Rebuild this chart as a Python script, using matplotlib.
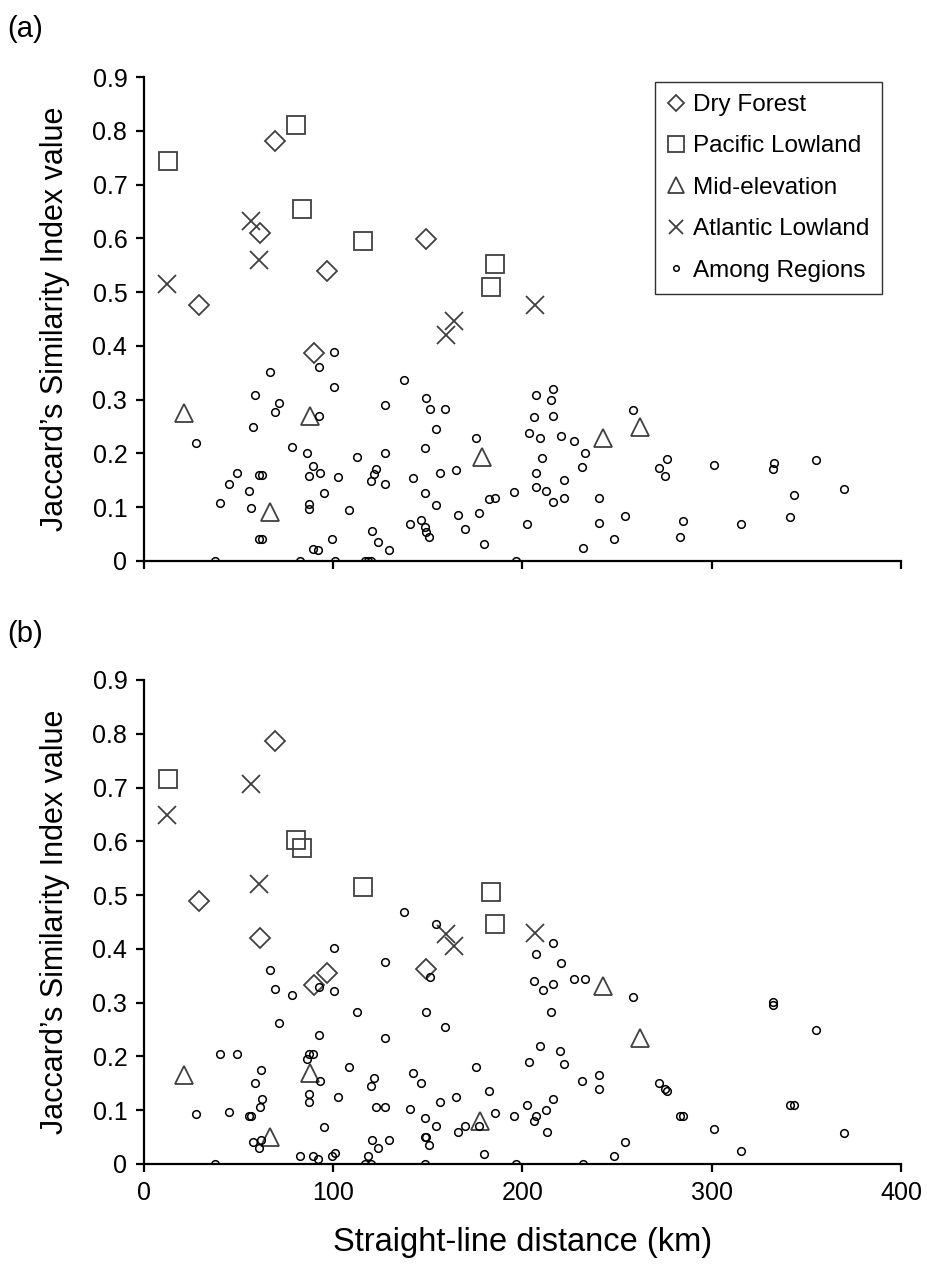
import numpy as np
import matplotlib
matplotlib.use('Agg')
import matplotlib.pyplot as plt

plt.rcParams['font.family'] = ['Liberation Sans', 'DejaVu Sans']

# ---- panel (a) ----
a_dry_x = [69.4, 61.3, 96.5, 148.8, 29.0, 89.7]
a_dry_y = [0.781, 0.610, 0.540, 0.598, 0.476, 0.386]
a_pac_x = [12.7, 80.3, 83.7, 115.5, 185.3, 183.2]
a_pac_y = [0.744, 0.811, 0.654, 0.595, 0.553, 0.510]
a_mid_x = [21.0, 87.5, 66.7, 178.6, 242.4, 262.1]
a_mid_y = [0.275, 0.270, 0.092, 0.194, 0.228, 0.250]
a_atl_x = [56.5, 60.9, 12.0, 163.8, 159.6, 206.4]
a_atl_y = [0.632, 0.559, 0.515, 0.447, 0.420, 0.476]

a_among_x = [100.6, 92.6, 66.6, 100.6, 58.5, 71.5, 69.1, 92.6, 127.3, 57.6,
             27.6, 78.2, 86.1, 112.4, 127.3, 89.5, 122.6, 121.5, 49.3, 61.0,
             62.2, 93.2, 87.4, 102.3, 45.1, 120.1, 127.3, 55.3, 95.1, 40.3,
             56.4, 87.4, 87.4, 108.5, 60.8, 62.5, 99.5, 120.5, 123.5, 129.5,
             89.3, 91.8, 37.3, 82.6, 101.1, 116.6, 118.4, 120.1,
             137.2, 149.2, 151.3, 159.2, 154.4, 148.5, 175.3, 142.1, 156.6, 165.0,
             148.5, 154.4, 140.5, 146.3, 148.6, 148.8, 150.4, 166.1, 169.5, 177.2,
             179.6, 182.1, 185.4, 195.3, 202.2, 196.6, 207.1, 216.3, 215.2, 206.1,
             216.3, 203.4, 209.5, 220.5, 227.4, 233.3, 210.3, 231.3, 207.1, 222.1,
             207.1, 212.6, 222.1, 215.9, 240.3, 240.3, 254.2, 248.2, 232.1, 258.4,
             276.5, 272.1, 275.3, 301.0, 332.9, 332.2, 355.3, 370.0, 343.5, 341.4,
             284.8, 283.2, 315.3]
a_among_y = [0.388, 0.361, 0.352, 0.324, 0.309, 0.294, 0.277, 0.270, 0.290, 0.249,
             0.219, 0.212, 0.200, 0.193, 0.200, 0.176, 0.171, 0.161, 0.163, 0.159,
             0.159, 0.163, 0.158, 0.156, 0.143, 0.148, 0.143, 0.131, 0.127, 0.107,
             0.099, 0.106, 0.097, 0.095, 0.040, 0.041, 0.041, 0.055, 0.036, 0.021,
             0.023, 0.021, 0.0, 0.0, 0.0, 0.0, 0.0, 0.0,
             0.337, 0.303, 0.283, 0.283, 0.246, 0.210, 0.229, 0.154, 0.163, 0.170,
             0.127, 0.105, 0.068, 0.077, 0.063, 0.053, 0.045, 0.086, 0.060, 0.089,
             0.032, 0.116, 0.118, 0.129, 0.068, 0.0, 0.309, 0.319, 0.300, 0.268,
             0.270, 0.238, 0.228, 0.233, 0.223, 0.200, 0.191, 0.174, 0.163, 0.151,
             0.137, 0.131, 0.118, 0.109, 0.118, 0.071, 0.084, 0.040, 0.024, 0.281,
             0.189, 0.173, 0.158, 0.178, 0.182, 0.172, 0.187, 0.133, 0.122, 0.081,
             0.075, 0.045, 0.069]

# ---- panel (b) ----
b_dry_x = [69.4, 29.0, 61.4, 148.8, 96.6, 89.7]
b_dry_y = [0.787, 0.489, 0.420, 0.363, 0.355, 0.332]
b_pac_x = [12.7, 80.4, 83.6, 115.5, 183.2, 185.3]
b_pac_y = [0.715, 0.603, 0.588, 0.515, 0.505, 0.446]
b_mid_x = [21.0, 87.5, 66.7, 177.5, 242.4, 262.1]
b_mid_y = [0.165, 0.170, 0.050, 0.080, 0.330, 0.235]
b_atl_x = [56.5, 12.0, 60.9, 159.6, 163.8, 206.4]
b_atl_y = [0.706, 0.649, 0.521, 0.428, 0.405, 0.430]

b_among_x = [100.6, 127.3, 66.6, 69.2, 78.2, 92.6, 100.6, 112.4, 137.2, 154.4,
             151.3, 216.3, 207.1, 220.5, 206.1, 210.6, 216.3, 227.4, 233.3, 258.4,
             149.2, 215.2, 332.5, 332.5,
             40.3, 49.3, 27.6, 45.1, 57.6, 56.4, 55.3, 58.5, 61.6, 62.5,
             61.3, 60.8, 61.6, 37.3, 71.5, 82.6, 86.1, 87.4, 87.4, 87.4,
             89.5, 89.3, 91.8, 92.6, 93.2, 95.1, 99.5, 101.1, 102.3, 108.5,
             116.6, 118.4, 120.1, 120.1, 121.5, 122.6, 120.5, 123.5, 127.3, 129.5,
             127.3, 140.5, 142.1, 146.3, 148.5, 148.6, 148.8, 150.4, 148.5, 156.6,
             154.4, 159.2, 165.0, 166.1, 169.5, 175.3, 177.2, 179.6, 182.1, 185.4,
             195.3, 196.6, 202.2, 203.4, 206.0, 207.1, 209.5, 212.6, 213.0, 215.9,
             220.0, 222.1, 231.3, 232.1, 240.3, 240.3, 248.2, 254.2, 272.1, 275.3,
             276.5, 283.2, 284.8, 301.0, 315.3, 343.5, 341.4, 355.3, 370.0]
b_among_y = [0.402, 0.376, 0.361, 0.325, 0.314, 0.329, 0.321, 0.282, 0.468, 0.447,
             0.348, 0.410, 0.390, 0.373, 0.340, 0.323, 0.334, 0.344, 0.343, 0.311,
             0.282, 0.282, 0.302, 0.295,
             0.205, 0.205, 0.092, 0.097, 0.040, 0.090, 0.090, 0.150, 0.175, 0.120,
             0.105, 0.030, 0.045, 0.0, 0.262, 0.015, 0.195, 0.205, 0.130, 0.115,
             0.205, 0.015, 0.010, 0.240, 0.155, 0.068, 0.015, 0.020, 0.125, 0.180,
             0.0, 0.015, 0.0, 0.145, 0.160, 0.105, 0.045, 0.030, 0.105, 0.045,
             0.235, 0.102, 0.170, 0.150, 0.085, 0.050, 0.050, 0.035, 0.0, 0.115,
             0.070, 0.255, 0.125, 0.060, 0.070, 0.180, 0.070, 0.018, 0.135, 0.095,
             0.090, 0.0, 0.110, 0.190, 0.080, 0.090, 0.220, 0.100, 0.060, 0.120,
             0.210, 0.185, 0.155, 0.0, 0.165, 0.140, 0.015, 0.040, 0.150, 0.140,
             0.135, 0.090, 0.090, 0.065, 0.025, 0.110, 0.110, 0.250, 0.057]

edge = '#404040'


def draw(ax, dry, pac, mid, atl, among, legend=False):
    ax.plot(dry[0], dry[1], 'D', ms=9.7, mfc='none', mec=edge, mew=1.3, ls='none', label='Dry Forest')
    ax.plot(pac[0], pac[1], 's', ms=13, mfc='none', mec=edge, mew=1.3, ls='none', label='Pacific Lowland')
    ax.plot(mid[0], mid[1], '^', ms=13, mfc='none', mec=edge, mew=1.3, ls='none', label='Mid-elevation')
    ax.plot(atl[0], atl[1], 'x', ms=12.5, mec=edge, mew=1.3, ls='none', label='Atlantic Lowland')
    ax.plot(among[0], among[1], 'o', ms=5.5, mfc='none', mec='black', mew=1.1, ls='none', label='Among Regions')
    ax.set_xlim(0, 400)
    ax.set_ylim(0, 0.9)
    ax.set_xticks([0, 100, 200, 300, 400])
    ax.set_yticks(np.arange(0, 0.91, 0.1))
    ax.set_yticklabels(['0'] + ['%.1f' % v for v in np.arange(0.1, 0.91, 0.1)])
    for s in ['top', 'right']:
        ax.spines[s].set_visible(False)
    for s in ['left', 'bottom']:
        ax.spines[s].set_linewidth(1.6)
    ax.tick_params(direction='out', length=6, width=1.6, labelsize=18, pad=6)
    ax.set_ylabel("Jaccard\u2019s Similarity Index value", fontsize=22, labelpad=16)
    ax.patch.set_visible(False)
    if legend:
        leg = ax.legend(loc='upper right', bbox_to_anchor=(0.975, 0.99), fontsize=17.5,
                        handlelength=0.8, handletextpad=0.3, labelspacing=0.8,
                        markerscale=0.85, fancybox=False, edgecolor='#303030',
                        borderpad=0.5, framealpha=1, borderaxespad=0)
        leg.get_frame().set_linewidth(1.0)
        leg.legend_handles[4].set_markersize(4)


fig = plt.figure(figsize=(9.27, 12.75), dpi=100)
ax1 = fig.add_axes([0.1553, 0.56, 0.8166, 0.3796])
ax2 = fig.add_axes([0.1553, 0.0871, 0.8166, 0.3796])

draw(ax1, (a_dry_x, a_dry_y), (a_pac_x, a_pac_y), (a_mid_x, a_mid_y), (a_atl_x, a_atl_y),
     (a_among_x, a_among_y), legend=True)
draw(ax2, (b_dry_x, b_dry_y), (b_pac_x, b_pac_y), (b_mid_x, b_mid_y), (b_atl_x, b_atl_y),
     (b_among_x, b_among_y))

ax1.set_xticklabels([])
ax2.set_xlabel('Straight-line distance (km)', fontsize=23.5, labelpad=16)

fig.text(0.008, 0.988, '(a)', fontsize=21, va='top')
fig.text(0.008, 0.514, '(b)', fontsize=21, va='top')

fig.savefig('out.png', dpi=100)
